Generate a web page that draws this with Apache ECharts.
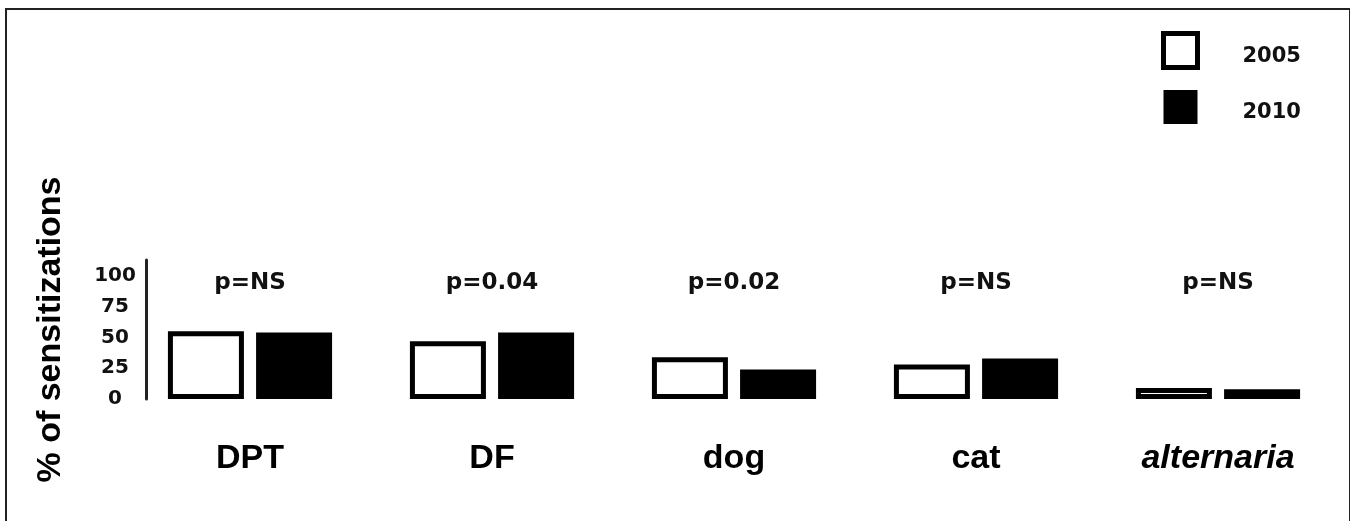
<!DOCTYPE html>
<html>
<head>
<meta charset="utf-8">
<script src="https://cdn.jsdelivr.net/npm/echarts@6/dist/echarts.min.js"></script>
<style>
    html, body { margin: 0; padding: 0; background: #fff; }
    #chart { width: 1350px; height: 521px; }
    .frame {
        position: absolute;
        left: 5px;
        top: 8px;
        width: 1342px;
        height: 530px;
        border: 2px solid #222;
        pointer-events: none;
    }
</style>
</head>
<body>
<div id="chart"></div>
<div class="frame"></div>
<script>
const categories = ['DPT', 'DF', 'dog', 'cat', 'alternaria'];
const values2005 = [55, 47, 34, 28, 9];
const values2010 = [54, 54, 24, 33, 8];
const pValues = ['p=NS', 'p=0.04', 'p=0.02', 'p=NS', 'p=NS'];
const yTicks = [0, 25, 50, 75, 100];

const BOLD = 'DejaVu Sans';
const ARIAL = 'Liberation Sans';

const chart = echarts.init(document.getElementById('chart'));

const options = {
    animation: false,
    grid: {
        left: 129,
        right: 11,
        top: 260,
        bottom: 122
    },
    legend: {
        orient: 'vertical',
        left: 1161,
        top: 31,
        padding: 0,
        itemWidth: 34,
        itemHeight: 34,
        itemGap: 20,
        icon: 'rect',
        formatter: '{t|{name}}',
        textStyle: {
            rich: {
                t: {
                    fontFamily: BOLD,
                    fontWeight: 'bold',
                    fontSize: 21,
                    color: '#111',
                    padding: [12, 0, 0, 40]
                }
            }
        },
        data: [
            { name: '2005', itemStyle: { color: '#fff', borderColor: '#000', borderWidth: 5 } },
            { name: '2010', itemStyle: { color: '#000', borderWidth: 0 } }
        ]
    },
    xAxis: [{
        type: 'category',
        data: categories,
        axisLine: { show: false },
        axisTick: { show: false },
        axisLabel: {
            interval: 0,
            margin: 43,
            color: '#000',
            fontFamily: ARIAL,
            fontWeight: 'bold',
            fontSize: 34,
            formatter: function (v, i) {
                return i === 4 ? '{it|' + v + '}' : v;
            },
            rich: {
                it: {
                    fontFamily: ARIAL,
                    fontWeight: 'bold',
                    fontStyle: 'italic',
                    fontSize: 34,
                    color: '#000'
                }
            }
        }
    }, {
        // p-values shown above each group
        type: 'category',
        position: 'top',
        data: categories,
        offset: -35,
        axisLine: { show: false },
        axisTick: { show: false },
        axisLabel: {
            interval: 0,
            margin: 0,
            color: '#111',
            fontFamily: BOLD,
            fontWeight: 'bold',
            fontSize: 23,
            formatter: function (v, i) {
                return pValues[i];
            }
        }
    }],
    yAxis: {
        type: 'value',
        min: 0,
        max: 113,
        interval: 25,
        offset: -17,
        name: '% of sensitizations',
        nameLocation: 'middle',
        nameGap: 78,
        nameTextStyle: {
            fontFamily: ARIAL,
            fontWeight: 'bold',
            fontSize: 34,
            color: '#000'
        },
        axisLine: { show: true, lineStyle: { color: '#222', width: 3 } },
        axisTick: { show: false },
        splitLine: { show: false },
        axisLabel: {
            showMaxLabel: false,
            align: 'center',
            margin: 31,
            padding: [10, 0, 0, 0],
            color: '#111',
            fontFamily: BOLD,
            fontWeight: 'bold',
            fontSize: 20,
            formatter: function (val) {
                return yTicks.indexOf(val) >= 0 ? String(val) : '';
            }
        }
    },
    series: [{
        name: '2005',
        type: 'bar',
        data: values2005,
        barWidth: 76,
        barGap: '16%',
        itemStyle: { color: '#fff', borderColor: '#000', borderWidth: 5 }
    }, {
        name: '2010',
        type: 'bar',
        data: values2010,
        barWidth: 76,
        barGap: '16%',
        itemStyle: { color: '#000' }
    }]
};

chart.setOption(options, true);
</script>
</body>
</html>
